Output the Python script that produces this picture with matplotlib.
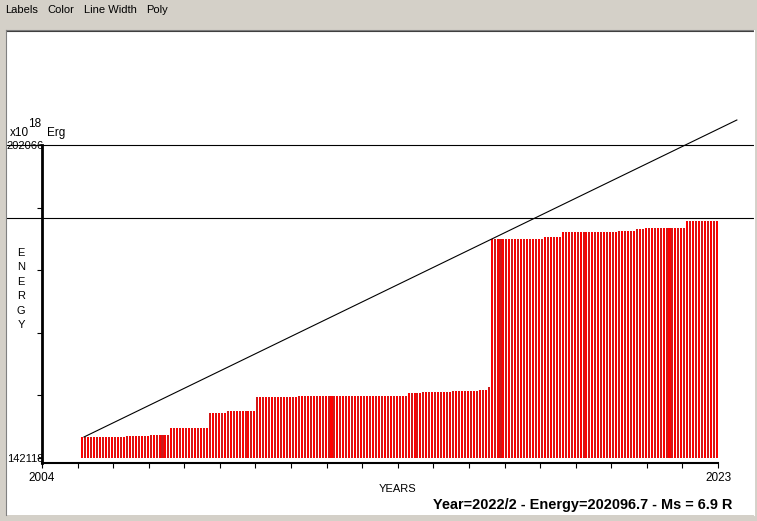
import matplotlib.pyplot as plt
from matplotlib.lines import Line2D
import numpy as np

# cumulative energy (axis units)
energy_levels = [146140, 146332, 146523, 147864, 150832, 151120, 153801, 153991,
                 154510, 154759, 154950, 155200, 155660, 184063, 184446, 185404,
                 185595, 185978, 186170, 187510]
months_at_level = [15, 8, 7, 13, 6, 10, 14, 37, 5, 10, 9, 3, 1, 18, 6, 19, 6, 3, 14, 11]
first_year, first_month = 2005, 2

trend_years = [2005.18, 2023.53]
trend_energy = [146140, 206855]
ref_lines = [202066, 188078]

y_min, y_max = 142118, 202066
year_min, year_max = 2004, 2023
footer = "Year=2022/2 - Energy=202096.7 - Ms = 6.9 R"
menu_items = [("Labels", 5), ("Color", 47), ("Line Width", 84), ("Poly", 146)]

W, H = 757, 521
GRAY = "#D4D0C8"
FONT = "Liberation Sans"

# pixel anchors of the original window
panel_l, panel_t, panel_r, panel_b = 7, 31, 754, 515
x0_px, x1_px = 42, 718
ytop_px, ybot_px = 145, 458

xs = (year_max - year_min) / (x1_px - x0_px)
ys = (y_max - y_min) / (ybot_px - ytop_px)


def fx(px):
    return px / W


def fy(py):
    return 1 - py / H


fig = plt.figure(figsize=(W / 100, H / 100), dpi=100, facecolor=GRAY)
ax = fig.add_axes([fx(panel_l), fy(panel_b), fx(panel_r - panel_l), (panel_b - panel_t) / H])
ax.set_facecolor("white")
ax.set_xlim(year_min - (x0_px - panel_l) * xs, year_max + (panel_r - x1_px) * xs)
ax.set_ylim(y_min - (panel_b - ybot_px) * ys, y_max + (ytop_px - panel_t) * ys)

# monthly bars
values = np.repeat(energy_levels, months_at_level)
idx = np.arange(len(values)) + (first_year - year_min) * 12 + first_month - 1
bar_x = year_min + (idx + 0.3) / 12
colors = ["#FF0000" if i % 2 == 0 else "#D01818" for i in range(len(values))]
ax.bar(bar_x, values - y_min, bottom=y_min, width=0.68 / 12, align="edge",
       color=colors, linewidth=0, antialiased=False)

for v in ref_lines:
    ax.axhline(v, color="black", lw=0.8)
ax.plot(trend_years, trend_energy, color="black", lw=0.8)

# axes spines
floor = y_min - 5 * ys
for s in ["top", "right"]:
    ax.spines[s].set_visible(False)
ax.spines["left"].set_position(("data", year_min))
ax.spines["left"].set_bounds(floor, y_max)
ax.spines["left"].set_linewidth(2.0)
ax.spines["bottom"].set_position(("data", floor))
ax.spines["bottom"].set_bounds(year_min, year_max)
ax.spines["bottom"].set_linewidth(1.5)

yt = np.linspace(y_min, y_max, 6)
ax.set_yticks(yt)
ax.set_yticklabels([str(y_min), "", "", "", "", str(y_max)], fontfamily=FONT, fontsize=8)
ax.tick_params(axis="y", direction="out", length=3.6, width=0.8, pad=-5)
xt = np.arange(year_min, year_max + 1)
ax.set_xticks(xt)
ax.set_xticklabels([str(t) if t in (year_min, year_max) else "" for t in xt],
                   fontfamily=FONT, fontsize=8.5)
ax.tick_params(axis="x", direction="out", length=3.6, width=0.8, pad=3)

# labels
fig.text(fx(10), fy(133), "x10", fontfamily=FONT, fontsize=8.5, va="center")
fig.text(fx(28), fy(124), "18", fontfamily=FONT, fontsize=8.5, va="center")
fig.text(fx(47), fy(133), "Erg", fontfamily=FONT, fontsize=8.5, va="center")
fig.text(fx(21), fy(289), "E\nN\nE\nR\nG\nY", fontfamily=FONT, fontsize=8,
         ha="center", va="center", linespacing=1.55)
fig.text(fx(398), fy(489), "YEARS", fontfamily=FONT, fontsize=8, ha="center", va="center")
fig.text(fx(433), fy(505), footer, fontfamily=FONT, fontsize=10.45, fontweight="bold", va="center")

for label, px in menu_items:
    fig.text(fx(px), fy(10), label, fontfamily=FONT, fontsize=8, va="center")

# sunken window border
fig.add_artist(Line2D([fx(panel_l - 1), fx(panel_r)], [fy(panel_t - 1)] * 2, color="#808080", lw=0.8))
fig.add_artist(Line2D([fx(panel_l), fx(panel_r - 1)], [fy(panel_t)] * 2, color="#404040", lw=0.8))
fig.add_artist(Line2D([fx(panel_l - 1)] * 2, [fy(panel_t - 1), fy(panel_b)], color="#808080", lw=0.8))
fig.add_artist(Line2D([fx(panel_r)] * 2, [fy(panel_t - 1), fy(panel_b)], color="#FFFFFF", lw=0.8))

fig.savefig("out.png", dpi=100, facecolor=GRAY)
